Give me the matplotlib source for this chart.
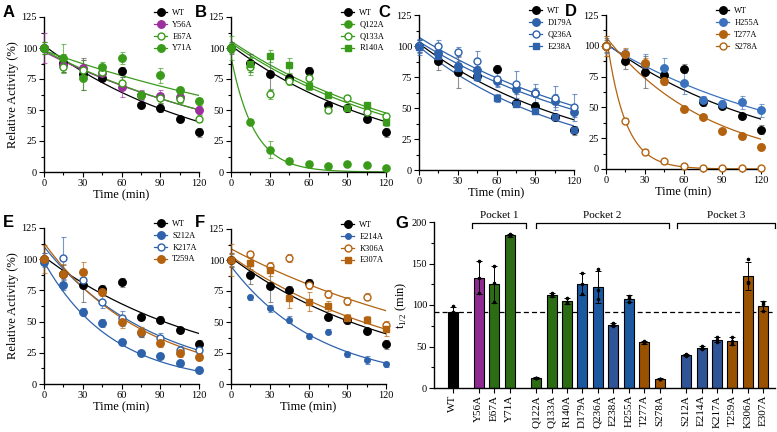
import numpy as np
import matplotlib
matplotlib.use('Agg')
import matplotlib.pyplot as plt
from matplotlib.lines import Line2D
from matplotlib.ticker import MultipleLocator

plt.rcParams['font.family'] = ['Liberation Serif', 'DejaVu Serif']
plt.rcParams['mathtext.fontset'] = 'custom'
plt.rcParams['mathtext.rm'] = 'Liberation Serif'

# ---------------- data ----------------
time = [0, 15, 30, 45, 60, 75, 90, 105, 120]

WT = [100, 88, 79, 76, 81.5, 54, 51.5, 43, 32]
WT_err = [5, 7, 13, 3, 3.5, 2.5, 3, 2, 3.5]
Y56A = [100, 86, 84, 80, 68.5, 62, 61, 60.5, 50]
Y56A_err = [12, 5, 6, 5, 8, 4, 5, 4, 3]
E67A = [100, 85, 82, 81, 72, 62, 60, 59, 43]
E67A_err = [5, 5, 8, 4, 5, 3, 4, 3, 3]
Y71A = [100, 92, 76, 85, 92, 62, 78, 66, 57]
Y71A_err = [5, 11, 10, 4, 5, 3, 6, 2, 3]
Q122A = [100, 40.5, 18, 9, 6.5, 4.5, 6.5, 6, 3.5]
Q122A_err = [3, 2, 7, 2, 2, 1, 1, 1, 1]
Q133A = [100, 85, 63, 73, 75.5, 50, 60, 48.5, 45]
Q133A_err = [4, 7, 4, 3, 3, 2, 2, 2, 2]
R140A = [100, 87, 93.5, 86, 69.5, 62, 52, 54, 40]
R140A_err = [10, 6, 5, 6, 3, 2, 2, 2, 3]
D179A = [100, 94, 84, 81, 71.5, 65, 62.5, 56, 47]
D179A_err = [5, 4, 4, 3, 4, 4, 4, 5, 4]
Q236A = [100, 100, 95, 88, 73, 69, 62, 58, 50.5]
Q236A_err = [6, 5, 4, 8, 6, 11, 7, 10, 11]
E238A = [99, 92, 82, 75, 58, 53.5, 47.5, 43, 32]
E238A_err = [6, 4, 4, 3, 3, 2, 2, 2, 2]
H255A = [100, 93, 85, 82, 70, 56, 53, 54, 47.5]
H255A_err = [6, 4, 8, 8, 9, 3, 3, 5, 5]
T277A = [100, 93, 86, 71.5, 48.5, 42.5, 31, 26.5, 18]
T277A_err = [8, 5, 4, 3, 2, 2, 2, 2, 2]
S278A = [100, 39, 14, 6.5, 2.5, 1, 0.5, 0.5, 0.5]
S278A_err = [8, 2, 2, 1, 1, 1, 1, 1, 1]
S212A = [98, 79, 57.5, 49, 33.5, 24.5, 22.5, 17, 11.5]
S212A_err = [4, 4, 3, 3, 2, 2, 2, 2, 2]
K217A = [100, 101, 83, 66, 52.5, 41, 36.5, 27.5, 27]
K217A_err = [5, 17, 5, 5, 6, 3, 4, 3, 3]
T259A = [100, 88, 90, 73.5, 50, 42, 33, 25, 22]
T259A_err = [11, 8, 8, 3, 5, 4, 3, 3, 3]
E214A = [100, 70, 61, 52, 38.5, 42, 24, 19.5, 16]
E214A_err = [6, 2, 3, 3, 2, 2, 2, 3, 2]
K306A = [100, 104.5, 95, 101.5, 80, 72.5, 67, 70.5, 47.5]
K306A_err = [6, 3, 3, 3, 3, 3, 3, 3, 3]
E307A = [100, 97.5, 92, 69, 66.5, 63, 53.5, 52, 44]
E307A_err = [13, 5, 5, 8, 8, 4, 3, 3, 5]

# fitted one-phase decay curves: start value and half-life (min)
fit_y0 = {'WT': 102, 'Y56A': 97, 'E67A': 98, 'Y71A': 98, 'Q122A': 93, 'Q133A': 105.5,
          'R140A': 104, 'D179A': 103.5, 'Q236A': 107, 'E238A': 99.5, 'H255A': 101,
          'T277A': 107, 'S278A': 110, 'S212A': 98, 'K217A': 110, 'T259A': 113,
          'E214A': 95, 'K306A': 109, 'E307A': 103}
fit_thalf = {'WT': 90, 'Y56A': 126, 'E67A': 124, 'Y71A': 180, 'Q122A': 12.3, 'Q133A': 104.5,
             'R140A': 100, 'D179A': 109.5, 'Q236A': 114, 'E238A': 80.7, 'H255A': 110,
             'T277A': 56, 'S278A': 10, 'S212A': 36.8, 'K217A': 59, 'T259A': 55,
             'E214A': 48, 'K306A': 136, 'E307A': 98}

# panel G: half-lives
bar_labels = ['WT', 'Y56A', 'E67A', 'Y71A', 'Q122A', 'Q133A', 'R140A', 'D179A', 'Q236A',
              'E238A', 'H255A', 'T277A', 'S278A', 'S212A', 'E214A', 'K217A', 'T259A',
              'K306A', 'E307A']
bar_mean = [91.5, 133, 125, 184, 12, 112, 105, 125, 122, 76.5, 107.5, 55, 11,
            39.5, 48.5, 58, 57, 135, 99]
bar_err = [6, 20, 22, 2, 1, 2, 4, 13, 19, 2, 4, 2, 0.5, 1, 2, 3, 5, 17, 6]
bar_reps = [[99, 92, 84], [153, 133, 114], [147, 126, 104], [186, 184, 183],
            [12.5, 12, 11.5], [114, 112, 111], [109, 104, 102], [139, 125, 113],
            [143, 118, 107], [78, 77, 75], [111, 108, 104], [57, 55, 54],
            [11.4, 11, 10.7], [40.5, 39.5, 38.8], [50.5, 48.5, 46.8], [61, 58, 55.5],
            [61.5, 57, 52.5], [155, 128, 127], [104, 101, 93]]
groups = [['WT'], ['Y56A', 'E67A', 'Y71A'],
          ['Q122A', 'Q133A', 'R140A', 'D179A', 'Q236A', 'E238A', 'H255A', 'T277A', 'S278A'],
          ['S212A', 'E214A', 'K217A', 'T259A', 'K306A', 'E307A']]
pocket_names = ['Pocket 1', 'Pocket 2', 'Pocket 3']

series = {'WT': (WT, WT_err), 'Y56A': (Y56A, Y56A_err), 'E67A': (E67A, E67A_err),
          'Y71A': (Y71A, Y71A_err), 'Q122A': (Q122A, Q122A_err), 'Q133A': (Q133A, Q133A_err),
          'R140A': (R140A, R140A_err), 'D179A': (D179A, D179A_err), 'Q236A': (Q236A, Q236A_err),
          'E238A': (E238A, E238A_err), 'H255A': (H255A, H255A_err), 'T277A': (T277A, T277A_err),
          'S278A': (S278A, S278A_err), 'S212A': (S212A, S212A_err), 'K217A': (K217A, K217A_err),
          'T259A': (T259A, T259A_err), 'E214A': (E214A, E214A_err), 'K306A': (K306A, K306A_err),
          'E307A': (E307A, E307A_err)}

panels = {'A': ['WT', 'Y56A', 'E67A', 'Y71A'],
          'B': ['WT', 'Q122A', 'Q133A', 'R140A'],
          'C': ['WT', 'D179A', 'Q236A', 'E238A'],
          'D': ['WT', 'H255A', 'T277A', 'S278A'],
          'E': ['WT', 'S212A', 'K217A', 'T259A'],
          'F': ['WT', 'E214A', 'K306A', 'E307A']}

# ---------------- styles ----------------
GREEN = '#3a9b1b'
PURPLE = '#9b2f9e'
BLUE = '#2e62ab'
BLUE2 = '#3b72bd'
ORANGE = '#b3620f'
style = {  # color, marker, filled, size
    'WT': ('black', 'o', True, 5.4),
    'Y56A': (PURPLE, 'o', True, 5.4), 'E67A': (GREEN, 'o', False, 5), 'Y71A': (GREEN, 'o', True, 5.4),
    'Q122A': (GREEN, 'o', True, 5.2), 'Q133A': (GREEN, 'o', False, 5), 'R140A': (GREEN, 's', True, 4.8),
    'D179A': (BLUE, 'o', True, 5.4), 'Q236A': (BLUE, 'o', False, 5), 'E238A': (BLUE, 's', True, 4.8),
    'H255A': (BLUE2, 'o', True, 5.4), 'T277A': (ORANGE, 'o', True, 5.4), 'S278A': (ORANGE, 'o', False, 5),
    'S212A': (BLUE, 'o', True, 5.4), 'K217A': (BLUE, 'o', False, 5), 'T259A': (ORANGE, 'o', True, 5.4),
    'E214A': (BLUE, 'o', True, 4.0), 'K306A': (ORANGE, 'o', False, 5), 'E307A': (ORANGE, 's', True, 4.8),
}
bar_color = {'WT': '#000000', 'Y56A': '#8e2a91'}
for n in ['E67A', 'Y71A', 'Q122A', 'Q133A', 'R140A']:
    bar_color[n] = '#2b6c14'
for n in ['D179A', 'Q236A', 'H255A']:
    bar_color[n] = '#1a599f'
for n in ['E238A', 'S212A', 'E214A', 'K217A']:
    bar_color[n] = '#2f5596'
for n in ['T277A', 'S278A', 'T259A', 'K306A', 'E307A']:
    bar_color[n] = '#9a5200'

W, H = 777, 432
fig = plt.figure(figsize=(W / 100, H / 100), dpi=100)


def rect(l, t, r, b):
    return [l / W, 1 - b / H, (r - l) / W, (b - t) / H]


def style_axes(ax):
    for s in ['top', 'right']:
        ax.spines[s].set_visible(False)
    for s in ['left', 'bottom']:
        ax.spines[s].set_linewidth(1.0)
    ax.tick_params(which='major', direction='out', length=3.5, width=0.8, labelsize=7.5, pad=1.5)
    ax.tick_params(which='minor', direction='out', length=2, width=0.8)


panel_rects = {'A': (44, 17, 199, 172), 'B': (231, 17, 386, 172), 'C': (419, 15, 574, 170),
               'D': (606, 15, 761, 169), 'E': (44, 228, 199, 384), 'F': (231, 229, 386, 384)}
xlabels = {'A': True, 'B': False, 'C': True, 'D': True, 'E': True, 'F': True}

tt = np.linspace(0, 120, 200)
for p, names in panels.items():
    ax = fig.add_axes(rect(*panel_rects[p]))
    style_axes(ax)
    handles = []
    for z, n in enumerate(names):
        c, m, filled, ms = style[n]
        y, e = series[n]
        fit = fit_y0[n] * 0.5 ** (tt / fit_thalf[n])
        ax.plot(tt, fit, color=c, lw=0.9, zorder=2 + z * 0.1)
        ecol = '#555555' if n == 'WT' else c
        ax.errorbar(time, y, yerr=e, fmt='none', ecolor=ecol, elinewidth=0.8, capsize=1.8,
                    capthick=0.8, alpha=0.65, zorder=3, clip_on=False)
        fc = c if filled else 'white'
        ax.plot(time, y, ls='none', marker=m, ms=ms, mfc=fc, mec=c, mew=1.0,
                zorder=4 + z * 0.1, clip_on=False)
        handles.append(Line2D([], [], color=c, lw=0.9, marker=m, ms=ms, mfc=fc, mec=c, mew=1.0))
    ax.set_xlim(0, 120)
    ax.set_ylim(0, 125)
    ax.xaxis.set_major_locator(MultipleLocator(30))
    ax.xaxis.set_minor_locator(MultipleLocator(15))
    ax.yaxis.set_major_locator(MultipleLocator(25))
    ax.yaxis.set_minor_locator(MultipleLocator(12.5))
    if xlabels[p]:
        ax.set_xlabel('Time (min)', fontsize=9, labelpad=1)
    if p in ('A', 'E'):
        ax.set_ylabel('Relative Activity (%)', fontsize=9, labelpad=2)
    ax.legend(handles, names, loc='upper left', bbox_to_anchor=(0.71, 1.05), frameon=False,
              fontsize=6, handlelength=1.6, handletextpad=0.6, labelspacing=0.45,
              borderpad=0, borderaxespad=0)

# ---------------- panel G ----------------
axg = fig.add_axes(rect(434, 222, 775, 388))
style_axes(axg)
xpos = []
x = 0.0
for gi, g in enumerate(groups):
    if gi > 0:
        x += 0.7
    for n in g:
        xpos.append(x)
        x += 1
xpos = np.array(xpos)
colors = [bar_color[n] for n in bar_labels]
axg.bar(xpos, bar_mean, width=0.65, color=colors, edgecolor='black', linewidth=0.8, zorder=2)
axg.errorbar(xpos, bar_mean, yerr=bar_err, fmt='none', ecolor='black', elinewidth=0.7,
             capsize=2, capthick=0.7, zorder=3)
for xi, reps in zip(xpos, bar_reps):
    axg.plot([xi] * len(reps), reps, ls='none', marker='o', ms=1.6, color='black', zorder=4)
axg.axhline(bar_mean[0], color='black', lw=0.9, ls=(0, (4, 2.5)), zorder=1)
axg.set_xlim(-1.2, 20.85)
axg.set_ylim(0, 200)
axg.yaxis.set_major_locator(MultipleLocator(50))
axg.yaxis.set_minor_locator(MultipleLocator(25))
axg.set_xticks(xpos)
axg.set_xticklabels(bar_labels, rotation=90, fontsize=8)
axg.set_ylabel(r't$_{\mathregular{1/2}}$ (min)', fontsize=9, labelpad=2)

pads = [(-0.43, 1.07), (0.0, 0.57), (-0.6, 0.75)]
idx = 1
for gi, g in enumerate(groups[1:]):
    first = xpos[idx]
    last = xpos[idx + len(g) - 1]
    lo, hi = first + pads[gi][0], last + pads[gi][1]
    axg.plot([lo, lo, hi, hi], [193, 199, 199, 193], color='black', lw=0.9, clip_on=False)
    axg.text((lo + hi) / 2, 202, pocket_names[gi], ha='center', va='bottom', fontsize=8)
    idx += len(g)

# panel letters
letters = {'A': (3, 17), 'B': (195, 17), 'C': (378, 17), 'D': (565, 16),
           'E': (3, 227), 'F': (195, 227), 'G': (395, 228)}
for k, (lx, ly) in letters.items():
    fig.text(lx / W, 1 - ly / H, k, fontsize=12, fontweight='bold',
             family=['Liberation Sans', 'DejaVu Sans'], ha='left', va='baseline')

fig.savefig('out.png', dpi=100)
